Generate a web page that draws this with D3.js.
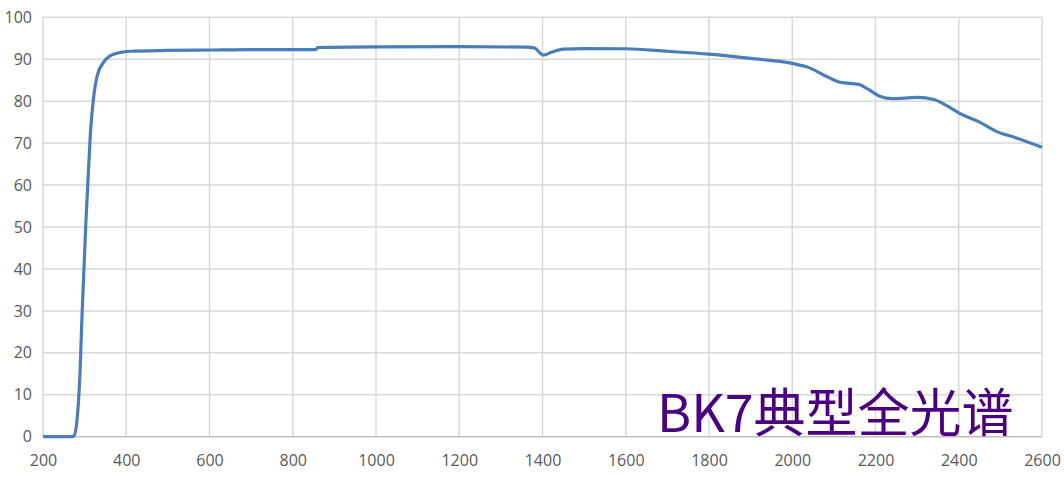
<!DOCTYPE html>
<html>
<head>
<meta charset="utf-8">
<script src="https://cdn.jsdelivr.net/npm/d3@7"></script>
<style>
  html, body { margin: 0; padding: 0; background: #fff; }
  svg { display: block; }
</style>
</head>
<body>
<svg id="chart"></svg>
<script>
const width = 1064;
const height = 477;

// wavelength (nm) and transmittance (%)
const wavelengths = [200, 270, 275, 281, 285, 289, 293, 298, 303, 309, 314, 321, 330, 345, 361, 385, 410,
    500, 600, 700, 855, 860, 1000, 1200, 1360, 1380, 1402, 1420, 1450, 1500, 1600, 1700, 1800, 1900,
    2000, 2040, 2080, 2115, 2160, 2180, 2210, 2240, 2300, 2340, 2370, 2400, 2450, 2490, 2530, 2600];
const transmission = [0, 0, 0.3, 3.3, 8, 15.3, 27, 39, 51, 63, 72.5, 80.4, 86, 89.2, 90.8, 91.6, 91.9,
    92.1, 92.2, 92.3, 92.3, 92.8, 92.95, 93.0, 92.9, 92.7, 91.0, 91.6, 92.4, 92.55, 92.5, 91.9, 91.2, 90.2,
    89.0, 88.0, 86.0, 84.5, 84.0, 83.0, 81.2, 80.6, 80.9, 80.4, 79.0, 77.2, 75.0, 72.8, 71.5, 69.0];
const xTicks = [200, 400, 600, 800, 1000, 1200, 1400, 1600, 1800, 2000, 2200, 2400, 2600];
const yTicks = [0, 10, 20, 30, 40, 50, 60, 70, 80, 90, 100];
const title = "BK7典型全光谱";

const svg = d3.select("#chart")
    .attr("width", width)
    .attr("height", height);

const x = d3.scaleLinear().domain([200, 2600]).range([43, 1042]);
const y = d3.scaleLinear().domain([0, 100]).range([436.7, 17.3]);

// grid
svg.append("g")
    .selectAll("line")
    .data(yTicks.filter(d => d > 0))
    .join("line")
    .attr("x1", x(200))
    .attr("x2", x(2600))
    .attr("y1", d => y(d))
    .attr("y2", d => y(d))
    .attr("stroke", "#d9d9d9")
    .attr("stroke-width", 1.5);

svg.append("g")
    .selectAll("line")
    .data(xTicks)
    .join("line")
    .attr("x1", d => x(d))
    .attr("x2", d => x(d))
    .attr("y1", y(100))
    .attr("y2", y(0))
    .attr("stroke", "#d9d9d9")
    .attr("stroke-width", 1.5);

// zero axis line
svg.append("line")
    .attr("x1", x(200))
    .attr("x2", x(2600))
    .attr("y1", y(0))
    .attr("y2", y(0))
    .attr("stroke", "#bfbfbf")
    .attr("stroke-width", 1.5);

// axis labels
const xAxis = svg.append("g")
    .attr("transform", `translate(0,${y(0)})`)
    .call(d3.axisBottom(x).tickValues(xTicks).tickFormat(d => d).tickSize(0).tickPadding(18));
const yAxis = svg.append("g")
    .attr("transform", `translate(${x(200)},0)`)
    .call(d3.axisLeft(y).tickValues(yTicks).tickFormat(d => d).tickSize(0).tickPadding(11));

[xAxis, yAxis].forEach(g => {
    g.select(".domain").remove();
    g.selectAll("text")
        .attr("fill", "#595959")
        .style("font-family", "'Open Sans', 'Noto Sans', sans-serif")
        .style("font-size", "16px");
});

// spectrum line
const line = d3.line()
    .x((d, i) => x(wavelengths[i]))
    .y(d => y(d))
    .curve(d3.curveMonotoneX);

svg.append("path")
    .datum(transmission)
    .attr("d", line)
    .attr("fill", "none")
    .attr("stroke", "#4a7ebb")
    .attr("stroke-width", 3.2)
    .attr("stroke-linejoin", "round");

// title inside the plot
svg.append("text")
    .attr("x", 657)
    .attr("y", 432)
    .attr("fill", "#4b0082")
    .style("font-family", "'Noto Sans CJK SC', sans-serif")
    .style("font-size", "52px")
    .text(title);
</script>
</body>
</html>
